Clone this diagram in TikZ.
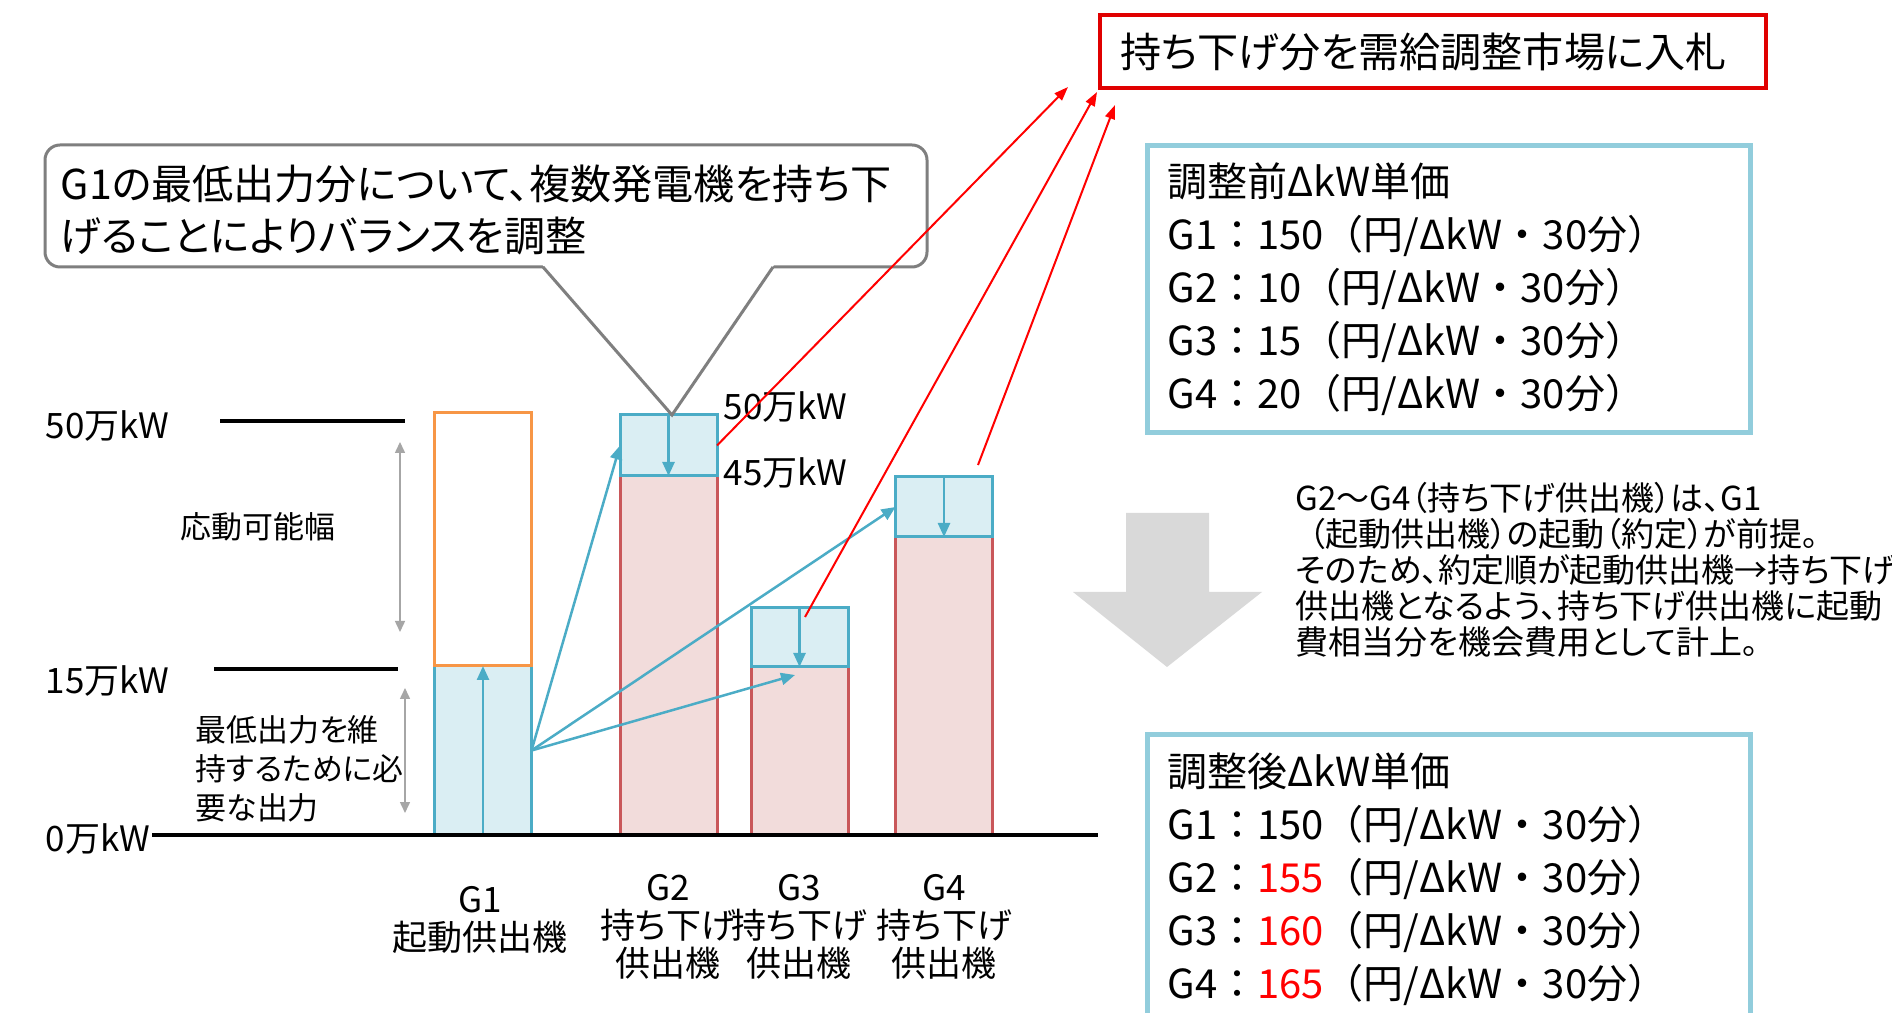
\documentclass[tikz,border=0pt]{standalone}
\usepackage{fontspec}
\setmainfont{Noto Sans CJK JP}
\newfontfamily\pfont{Noto Sans CJK JP}[RawFeature=+palt]
\usetikzlibrary{arrows.meta}
\definecolor{tealc}{HTML}{4BACC6}
\definecolor{lblue}{HTML}{DAEEF3}
\definecolor{lpink}{HTML}{F2DCDB}
\definecolor{pinkline}{HTML}{C9575A}
\definecolor{orangec}{HTML}{F79646}
\definecolor{boxblue}{HTML}{92CDDC}
\definecolor{callgray}{HTML}{7F7F7F}
\definecolor{spangray}{HTML}{A6A6A6}
\definecolor{arrowgray}{HTML}{D9D9D9}
\definecolor{bidred}{HTML}{E00000}
\definecolor{numred}{HTML}{FF0000}
\newcommand\perunit{（円/ΔkW・30分）}
\tikzset{
  barbase/.style={minimum width=9.7mm,inner sep=0pt,outer sep=0pt,line width=0.3mm},
  bluebar/.style={barbase,draw=tealc,fill=lblue},
  pinkbar/.style={barbase,draw=pinkline,fill=lpink},
  axislabel/.style={font=\fontsize{9.96}{12}\selectfont,anchor=base west,inner sep=0pt},
  smalltext/.style={font=\pfont\fontsize{8.8}{11.1}\selectfont,inner sep=0pt},
  genlabel/.style={font=\pfont\fontsize{9.96}{10.8}\selectfont,align=center,inner sep=0pt},
  bigtext/.style={font=\pfont\fontsize{11.7}{14.8}\selectfont,inner sep=0pt},
  pricebox/.style={anchor=north west,draw=boxblue,fill=white,line width=0.5mm,minimum width=60.3mm,
    text width=56.3mm,inner xsep=2mm,align=left,font=\fontsize{11.38}{15.08}\selectfont}
}
\begin{document}
\begin{tikzpicture}[x=0.1mm,y=-0.1mm,
    lvlline/.style={line width=0.4mm},
    rangearr/.style={spangray,line width=0.15mm,{Triangle[length=1.1mm,width=1mm]}-{Triangle[length=1.1mm,width=1mm]}},
    feedarr/.style={tealc,line width=0.25mm,-{Triangle[length=1.4mm,width=1.2mm]}},
    bidarr/.style={numred,line width=0.2mm,-{Triangle[length=1.4mm,width=1mm]}}]
  \useasboundingbox (0,0) rectangle (1892,1013);
  \fill[white] (0,0) rectangle (1892,1013);
  \node[axislabel] (l50) at (45,439) {50万kW};
  \node[axislabel] (l15) at (45,694) {15万kW};
  \node[axislabel] (l0) at (45,851) {0万kW};
  \draw[lvlline] (220,421) -- (405,421);
  \draw[lvlline] (214,669) -- (398,669);
  \node[smalltext] (range) at (258,527) {応動可能幅};
  \node[smalltext,anchor=base west,align=left] (minout) at (195,820) {最低出力を維\\持するために必\\要な出力};
  \coordinate (r1a) at (400,442);
  \coordinate (r1b) at (400,632);
  \coordinate (r2a) at (405,688);
  \coordinate (r2b) at (405,813);
  \draw[rangearr] (r1a) -- (r1b);
  \draw[rangearr] (r2a) -- (r2b);
  \node[bluebar,minimum height=16.9mm] (g1low) at (483,750.5) {};
  \node[barbase,draw=orangec,minimum height=25.3mm] (g1up) at (483,539.5) {};
  \node[pinkbar,minimum height=35.9mm] (g2low) at (668.5,655.5) {};
  \node[bluebar,minimum height=6.1mm] (g2top) at (668.5,445.5) {};
  \node[pinkbar,minimum height=16.8mm] (g3low) at (799.5,751) {};
  \node[bluebar,minimum height=5.9mm] (g3top) at (799.5,637.5) {};
  \node[pinkbar,minimum height=29.8mm] (g4low) at (944,686) {};
  \node[bluebar,minimum height=6mm] (g4top) at (944,507) {};
  \draw[feedarr] (g1low.south) -- (g1low.north);
  \draw[feedarr] (g2top.north) -- (g2top.south);
  \draw[feedarr] (g3top.north) -- (g3top.south);
  \draw[feedarr] (g4top.north) -- (g4top.south);
  \coordinate (g3in) at (795,675);
  \draw[feedarr] (g1low.east) -- (g2top.west);
  \draw[feedarr] (g1low.east) -- (g3in);
  \draw[feedarr] (g1low.east) -- (g4top.west);
  \draw[lvlline] (152,835) -- (1098,835);
  \node[axislabel] (t50) at (723,420) {50万kW};
  \node[axislabel] (t45) at (723,486) {45万kW};
  \node[genlabel] (n1) at (480,920) {G1\\起動供出機};
  \node[genlabel] (n2) at (668,927) {G2\\持ち下げ\\供出機};
  \node[genlabel] (n3) at (799,927) {G3\\持ち下げ\\供出機};
  \node[genlabel] (n4) at (944,927) {G4\\持ち下げ\\供出機};
  \draw[callgray,fill=white,line width=0.3mm,rounded corners=1.5mm] (45,145) rectangle (927,267);
  \fill[white] (540,262) -- (776,262) -- (672,415) -- cycle;
  \draw[callgray,line width=0.3mm] (543,267) -- (672,415) -- (773,267);
  \node[bigtext,anchor=base west,align=left] (callnote) at (60,252) {G1の最低出力分について、複数発電機を持ち下\\げることによりバランスを調整};
  \node[bigtext,anchor=west,draw=bidred,line width=0.4mm,minimum width=66.6mm,minimum height=7.3mm,
    text width=62.6mm,inner xsep=2mm,align=left] (market) at (1098,51.5) {持ち下げ分を需給調整市場に入札};
  \coordinate (m2) at (1068,87);
  \coordinate (m3) at (1097,92);
  \coordinate (m4) at (1115,105);
  \coordinate (s3) at (805,617);
  \coordinate (s4) at (978,465);
  \draw[bidarr] (g2top.east) -- (m2);
  \draw[bidarr] (s3) -- (m3);
  \draw[bidarr] (s4) -- (m4);
  \node[pricebox,minimum height=28.7mm] (before) at (1145,143) {調整前ΔkW単価\\G1：150\perunit\\G2：10\perunit\\G3：15\perunit\\G4：20\perunit};
  \fill[arrowgray] (1126,513) -- (1209,513) -- (1209,592) -- (1262,592) -- (1167,667) -- (1073,592) -- (1126,592) -- cycle;
  \node[anchor=base west,align=left,inner sep=0pt,font={\pfont\fontsize{9.39}{10.3}\selectfont\lineskiplimit=-5pt}] (premise) at (1295,655)
    {G2〜G4（持ち下げ供出機）は、G1\\\hspace{.4em}（起動供出機）の起動（約定）が前提。\\そのため、約定順が起動供出機→持ち下げ\\供出機となるよう、持ち下げ供出機に起動\\費相当分を機会費用として計上。};
  \node[pricebox,minimum height=29mm] (after) at (1145,732) {調整後ΔkW単価\\G1：150\perunit\\G2：\textcolor{numred}{155}\perunit\\G3：\textcolor{numred}{160}\perunit\\G4：\textcolor{numred}{165}\perunit};
\end{tikzpicture}
\end{document}
